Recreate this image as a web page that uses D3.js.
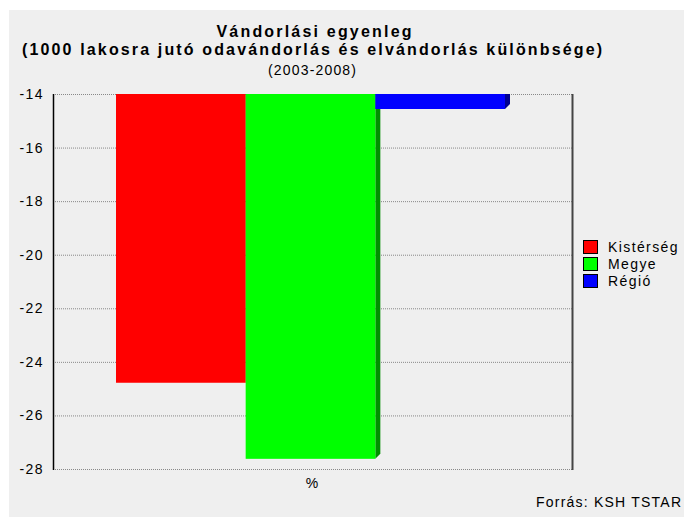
<!DOCTYPE html>
<html>
<head>
<meta charset="utf-8">
<script src="https://cdn.jsdelivr.net/npm/d3@7"></script>
<style>
  body { margin: 0; background: #fff; }
  svg text { font-family: "Liberation Sans", Arial, sans-serif; fill: #000; }
</style>
</head>
<body>
<div id="chart"></div>
<script>
// adatok
var categories = ['Kistérség', 'Megye', 'Régió'];
var values = [-24.78, -27.62, -14.56];
var colors = ['#ff0000', '#00ff00', '#0000ff'];
var sideColors = ['#b00000', '#009000', '#000090'];
var yTicks = [-14, -16, -18, -20, -22, -24, -26, -28];
var titleLines = ['Vándorlási egyenleg', '(1000 lakosra jutó odavándorlás és elvándorlás különbsége)'];
var subtitle = '(2003-2008)';
var xLabel = '%';
var source = 'Forrás: KSH TSTAR';

var W = 684, H = 517;
var plot = { left: 53, top: 94, right: 572, bottom: 469 };

var svg = d3.select('#chart').append('svg').attr('width', W).attr('height', H);

// háttér
svg.append('rect').attr('x', 9).attr('y', 10).attr('width', W - 9).attr('height', H - 10)
  .attr('fill', '#efefef');

var y = d3.scaleLinear().domain([-14, -28]).range([plot.top, plot.bottom]);
var x = d3.scaleBand().domain(categories).range([116, 505]).padding(0);

// rács
svg.append('g').selectAll('line').data(yTicks).enter().append('line')
  .attr('x1', plot.left).attr('x2', plot.right)
  .attr('y1', function(d){ return y(d) + 0.5; }).attr('y2', function(d){ return y(d) + 0.5; })
  .attr('stroke', '#888').attr('stroke-dasharray', '1,1');

// oszlopok (3D oldallap)
var depth = 5;
var bars = svg.append('g');
categories.forEach(function(c, i){
  var x0 = x(c), x1 = x(c) + x.bandwidth();
  var yb = y(values[i]), yt = y(-14);
  bars.append('path')
    .attr('d', 'M' + x1 + ',' + yt + ' L' + (x1 + depth) + ',' + yt +
      ' L' + (x1 + depth) + ',' + (yb - depth) + ' L' + x1 + ',' + yb + ' Z')
    .attr('fill', sideColors[i]);
  bars.append('rect').attr('x', x0).attr('y', yt)
    .attr('width', x.bandwidth()).attr('height', yb - yt)
    .attr('fill', colors[i]);
});

// tengelyek
svg.append('line').attr('x1', plot.left + 0.5).attr('x2', plot.left + 0.5)
  .attr('y1', plot.top).attr('y2', plot.bottom + 1).attr('stroke', '#000').attr('stroke-width', 1.5);
svg.append('line').attr('x1', plot.right + 0.5).attr('x2', plot.right + 0.5)
  .attr('y1', plot.top).attr('y2', plot.bottom + 1).attr('stroke', '#444').attr('stroke-width', 2);

var yAxis = d3.axisLeft(y).tickValues(yTicks).tickSize(0).tickPadding(9)
  .tickFormat(function(d){ return String(d); });
var ga = svg.append('g').attr('transform', 'translate(' + plot.left + ',0)').call(yAxis);
ga.select('.domain').remove();
ga.selectAll('text').style('font-size', '14px').style('letter-spacing', '1.4px')
  .style('font-family', '"Liberation Sans", Arial, sans-serif')
  .attr('fill', '#000');

// címek
svg.append('text').attr('x', 314).attr('y', 37).attr('text-anchor', 'middle')
  .attr('textLength', 195).attr('lengthAdjust', 'spacing')
  .style('font-size', '16px').style('font-weight', 'bold').text(titleLines[0]);
svg.append('text').attr('x', 312).attr('y', 55).attr('text-anchor', 'middle')
  .attr('textLength', 580).attr('lengthAdjust', 'spacing')
  .style('font-size', '16px').style('font-weight', 'bold').text(titleLines[1]);
svg.append('text').attr('x', 312).attr('y', 75).attr('text-anchor', 'middle')
  .attr('textLength', 88).attr('lengthAdjust', 'spacing')
  .style('font-size', '14px').text(subtitle);
svg.append('text').attr('x', 312).attr('y', 488).attr('text-anchor', 'middle')
  .style('font-size', '14px').text(xLabel);
svg.append('text').attr('x', 681).attr('y', 507).attr('text-anchor', 'end')
  .attr('textLength', 145).attr('lengthAdjust', 'spacing')
  .style('font-size', '14px').text(source);

// jelmagyarázat
var lg = svg.append('g').attr('transform', 'translate(583,240)');
categories.forEach(function(c, i){
  lg.append('rect').attr('x', 0.5).attr('y', i * 17 + 0.5).attr('width', 14).attr('height', 13)
    .attr('fill', colors[i]).attr('stroke', '#000');
  lg.append('text').attr('x', 25).attr('y', i * 17 + 12).style('font-size', '14px')
    .style('letter-spacing', '1.4px').text(c);
});
</script>
</body>
</html>
